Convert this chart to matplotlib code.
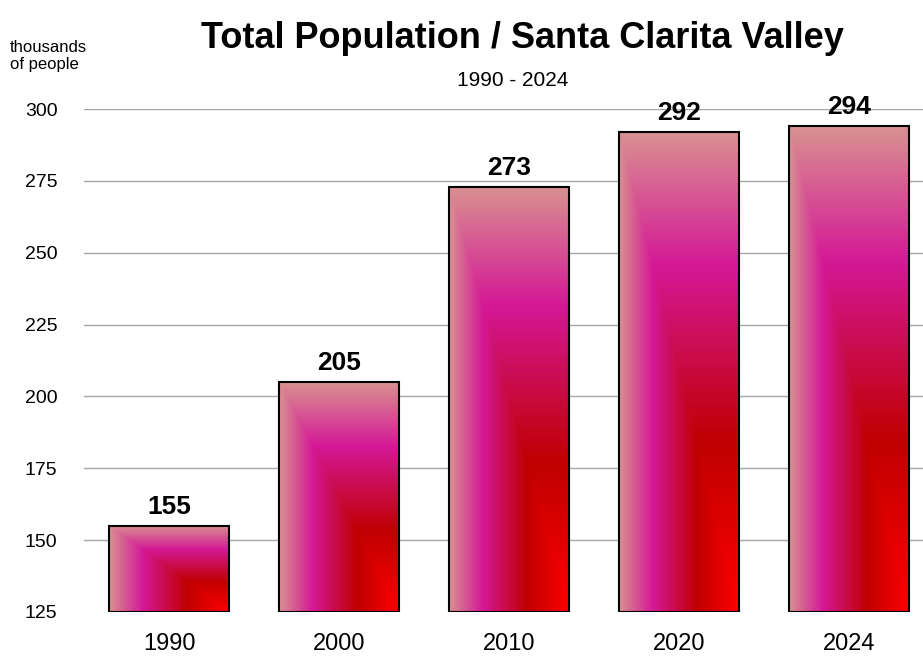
import numpy as np
import matplotlib
matplotlib.use("Agg")
import matplotlib.pyplot as plt

years = ["1990", "2000", "2010", "2020", "2024"]
population = [155, 205, 273, 292, 294]
yticks = [125, 150, 175, 200, 225, 250, 275, 300]

FONT = ["Liberation Sans", "DejaVu Sans"]
plt.rcParams["font.family"] = FONT

# gradient colour stops (t = 0 top-left edges -> 1 bottom-right corner)
stops_t = [0.0, 0.28, 0.65, 1.0]
stops_c = np.array([[217, 145, 145], [212, 24, 150], [192, 0, 0], [255, 0, 0]]) / 255.0

fig = plt.figure(figsize=(9.23, 6.62), dpi=100)
ax = fig.add_axes([84 / 923, 50 / 662, 839 / 923, 503 / 662])
ax.set_xlim(-0.5, 4.435)
ax.set_ylim(125, 300)

for y in yticks[1:]:
    ax.axhline(y, color="#a6a6a6", lw=1.0, zorder=0)

width = 0.71
n = 200
u = np.linspace(0, 1, n)[None, :]
v = np.linspace(0, 1, n)[:, None]
t = np.minimum(u, v)
img = np.zeros((n, n, 3))
for k in range(3):
    img[..., k] = np.interp(t, stops_t, stops_c[:, k])

for i, val in enumerate(population):
    x0, x1 = i - width / 2, i + width / 2
    ax.imshow(img, extent=[x0, x1, 125, val], origin="upper", aspect="auto",
              interpolation="bilinear", zorder=2)
    ax.bar(i, val - 125, bottom=125, width=width, facecolor="none",
           edgecolor="black", linewidth=1.5, zorder=3)
    ax.annotate(str(val), (i, val), xytext=(0, 5), textcoords="offset points",
                ha="center", va="bottom", fontsize=19, fontweight="bold",
                family=FONT, zorder=4)

ax.set_xlim(-0.5, 4.435)
ax.set_ylim(125, 300)
ax.set_xticks(range(len(years)))
ax.set_xticklabels(years, fontsize=17)
ax.set_yticks(yticks)
ax.set_yticklabels([str(y) for y in yticks], fontsize=14)
ax.tick_params(axis="x", length=0, pad=15)
ax.tick_params(axis="y", length=0, pad=19)
for s in ax.spines.values():
    s.set_visible(False)

fig.text(522 / 923, 1 - 38 / 662, "Total Population / Santa Clarita Valley",
         ha="center", va="center", fontsize=26, fontweight="bold")
fig.text(513 / 923, 1 - 80 / 662, "1990 - 2024", ha="center", va="center",
         fontsize=15)
fig.text(10 / 923, 1 - 56 / 662, "thousands\nof people", ha="left",
         va="center", fontsize=12, linespacing=1.2)

fig.savefig("out.png", dpi=100)
